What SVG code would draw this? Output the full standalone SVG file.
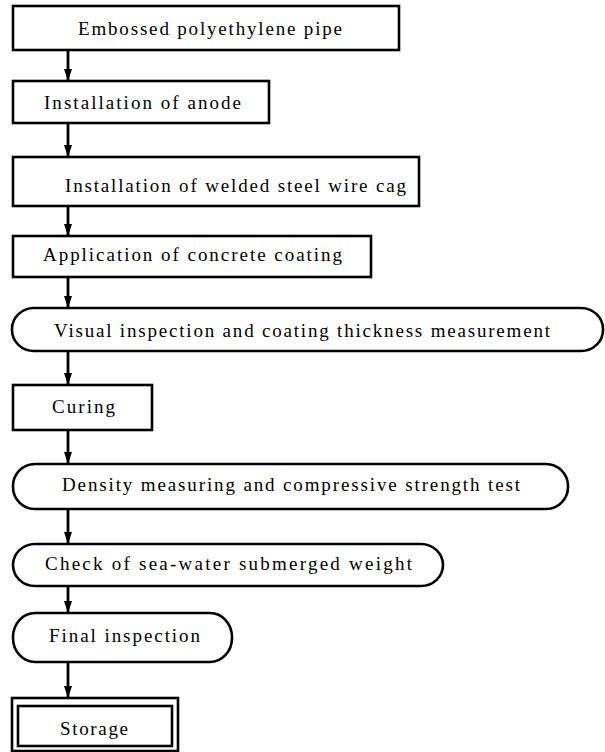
<svg xmlns="http://www.w3.org/2000/svg" width="605" height="752" viewBox="0 0 605 752">
<defs>
<style>
.b{fill:#fff;stroke:#000;stroke-width:2.6}
.t{font-family:"Liberation Serif","DejaVu Serif","Times New Roman",serif;font-size:19px;fill:#000}
.c{stroke:#000;stroke-width:2.8;fill:none}
</style>
<marker id="ah" viewBox="0 0 12 8" markerWidth="12" markerHeight="8" refX="12" refY="4" orient="auto" markerUnits="userSpaceOnUse">
<path d="M0,0 L12,4 L0,8 z" fill="#000"/>
</marker>
</defs>
<rect width="605" height="752" fill="#fff"/>
<g id="connectors">
<line class="c" x1="68" y1="50" x2="68" y2="81" marker-end="url(#ah)"/>
<line class="c" x1="68" y1="123" x2="68" y2="157" marker-end="url(#ah)"/>
<line class="c" x1="68" y1="206" x2="68" y2="236" marker-end="url(#ah)"/>
<line class="c" x1="68" y1="277" x2="68" y2="308" marker-end="url(#ah)"/>
<line class="c" x1="68" y1="351" x2="68" y2="385" marker-end="url(#ah)"/>
<line class="c" x1="68" y1="430" x2="68" y2="464" marker-end="url(#ah)"/>
<line class="c" x1="68" y1="509" x2="68" y2="544" marker-end="url(#ah)"/>
<line class="c" x1="68" y1="586" x2="68" y2="613" marker-end="url(#ah)"/>
<line class="c" x1="68" y1="662" x2="68" y2="698" marker-end="url(#ah)"/>
</g>
<g id="n1"><rect class="b" x="13" y="6" width="386" height="44"/><text class="t" x="78" y="35" textLength="264" lengthAdjust="spacing">Embossed polyethylene pipe</text></g>
<g id="n2"><rect class="b" x="13" y="81" width="256" height="42"/><text class="t" x="44" y="109" textLength="197" lengthAdjust="spacing">Installation of anode</text></g>
<g id="n3"><rect class="b" x="13" y="157" width="406" height="49"/><text class="t" x="65" y="192" textLength="341" lengthAdjust="spacing">Installation of welded steel wire cag</text></g>
<g id="n4"><rect class="b" x="13" y="236" width="358" height="41"/><text class="t" x="43" y="261" textLength="299" lengthAdjust="spacing">Application of concrete coating</text></g>
<g id="n5"><rect class="b" x="12" y="308" width="591" height="43" rx="22" ry="21"/><text class="t" x="54" y="337" textLength="496" lengthAdjust="spacing">Visual inspection and coating thickness measurement</text></g>
<g id="n6"><rect class="b" x="13" y="385" width="139" height="45"/><text class="t" x="52" y="413" textLength="63" lengthAdjust="spacing">Curing</text></g>
<g id="n7"><rect class="b" x="13" y="464" width="555" height="45" rx="22" ry="22"/><text class="t" x="62" y="491" textLength="458" lengthAdjust="spacing">Density measuring and compressive strength test</text></g>
<g id="n8"><rect class="b" x="13" y="544" width="430" height="42" rx="22" ry="21"/><text class="t" x="45" y="570" textLength="367" lengthAdjust="spacing">Check of sea-water submerged weight</text></g>
<g id="n9"><rect class="b" x="13" y="613" width="219" height="49" rx="22" ry="24"/><text class="t" x="49" y="642" textLength="151" lengthAdjust="spacing">Final inspection</text></g>
<g id="n10"><rect class="b" x="12" y="698" width="166" height="53"/><rect class="b" x="18" y="706" width="154" height="40"/><text class="t" x="60" y="735" textLength="68" lengthAdjust="spacing">Storage</text></g>
</svg>
